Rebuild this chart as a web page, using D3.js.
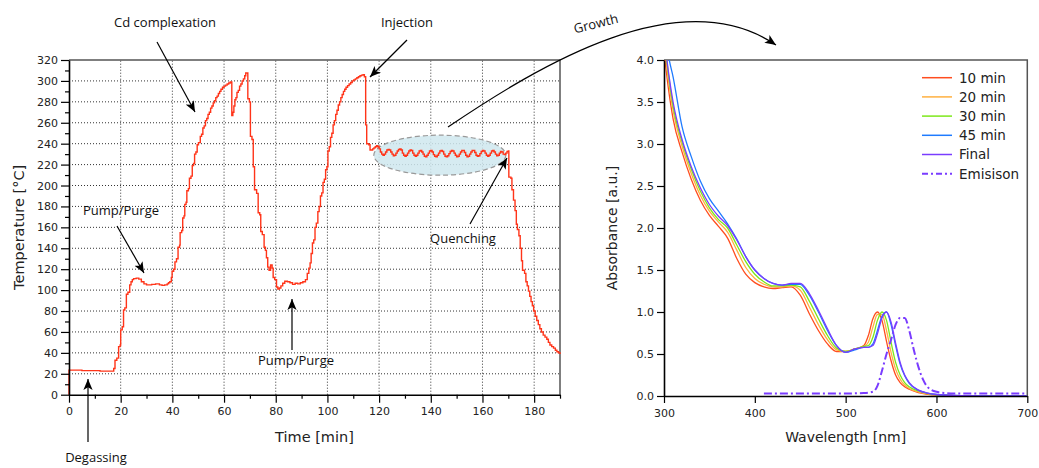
<!DOCTYPE html>
<html><head><meta charset="utf-8">
<script src="https://cdn.jsdelivr.net/npm/d3@7"></script>
<style>
html,body{margin:0;padding:0;background:#fff;}
svg{display:block;}
.tick text{font-family:"DejaVu Sans",sans-serif;font-size:11px;fill:#222;}
</style></head>
<body>
<svg id="c" width="1039" height="468"></svg>
<script>
// ---------- DATA ----------
// Temperature log (time in min, temperature in °C), step-wise recording
const timeMin = [0,0,5,12,17.3,17.8,18.5,19.2,19.8,20,20.6,21.1,21.6,22.2,22.8,23.5,24,24.5,25,26,27,28,29,30,32,33.5,35,36,37,38,38.5,39,39.6,39.9,40.5,41,41.6,42.2,42.8,43,43.6,44,44.5,44.8,45.3,45.6,46.2,46.6,47.2,47.7,48.2,48.6,49.1,49.6,50.1,50.8,51.3,51.8,52.3,52.8,53.3,53.8,54.3,54.8,55.3,55.8,56.3,56.8,57.3,57.8,58.3,58.8,59.4,60,60.6,61.2,61.8,62.4,63,63.4,63.8,64.2,64.6,65,65.5,66,66.5,67,67.5,68,68.4,69.2,69.8,70.2,70.8,71.3,71.8,72.6,73.2,73.8,74.2,74.8,75.5,76,76.4,76.9,77.4,78,78.6,79,79.6,80.3,80.8,81.4,82,82.7,83.5,84.5,85.5,86.5,87.5,88.5,89.5,90.5,91.5,92.2,92.8,93.3,93.7,94.2,94.7,95.2,95.7,96.3,96.8,97.3,97.8,98.3,98.8,99.3,99.8,100.2,100.7,101.2,101.7,102.2,102.7,103.2,103.7,104.2,104.7,105.2,105.7,106.2,106.7,107.2,107.8,108.4,109,109.6,110.2,110.8,111.4,112,112.6,113.2,113.8,114.3,114.8,115.2,116,
116.5,117,117.5,118,118.5,119,119.5,120,120.5,121,121.5,122,122.5,123,123.5,124,124.5,125,125.5,126,126.5,127,127.5,128,128.5,129,129.5,130,130.5,131,131.5,132,132.5,133,133.5,134,134.5,135,135.5,136,136.5,137,137.5,138,138.5,139,139.5,140,140.5,141,141.5,142,142.5,143,143.5,144,144.5,145,145.5,146,146.5,147,147.5,148,148.5,149,149.5,150,150.5,151,151.5,152,152.5,153,153.5,154,154.5,155,155.5,156,156.5,157,157.5,158,158.5,159,159.5,160,160.5,161,161.5,162,162.5,163,163.5,164,164.5,165,165.5,166,166.5,167,167.5,168,168.5,169,169.5,170,
170.2,171,171.4,172,172.6,173.1,173.5,174.1,174.6,175.1,175.5,176.3,176.8,177.3,177.8,178.3,178.8,179.3,179.8,180.4,181,181.6,182.2,182.8,183.5,184.2,184.9,185.5,186.1,186.8,187.5,188.2,188.8,189.4,190];
const tempC   = [0,23.5,23,22.5,25,33,35,46,47.5,62,65,81,83,96,98,105,108,110,111,111.5,110.5,108,106,105,105.5,106,105,104.5,105,106,107,108,112,118,120,127,130,141,143,155,157,169,171,182,184,195,197,207,209,219,221,230,232,239,241,247,249,255,257,262,264,268,270,274,276,279,281,284,285.5,288,290,292,294,295,296,297,298,299,267,270,276,282,284,289,291,295,297,300,302,305,307.5,283,280,247,244,218,196,192.5,174,172,156,153,141,138,131,122,119,124,121,112,110,103,101,102,104,106.5,108.5,108,107,105.5,106.5,106,107,108,110,116,121,126,135,145,148,160,164,175,180,190,193,203,206,215,218,233,237,246,250,258,262,268,272,277,280,284,287,290,292,294,295.5,297,298.5,300,301,302,303,304,305,305.5,306,304,258,240,239,
234,234,235,236,237,238,237,235,232,230,229,230,232,234,234.5,234,232,230,228.5,229,231,233,234.5,235,234,231,229,228,229,231,233,234,233.5,231,229,228,229,231,233,233.5,232,230,228,227.5,229,231,233,233.5,232,229.5,228,227.5,229,231,233,233.5,232.5,230,228,227.5,228.5,230.5,232.5,233.5,233,231,229,227.5,228,230,232,233.5,233.5,231.5,229,227.5,228,230,232,233.5,233.5,231.5,229,228,228.5,230.5,232.5,233.5,233,231,229,228,229,231,233,233.5,232,230,228.5,229,231,232.5,232,230,229.5,231,232.5,233,
208,207,196,186,176,163,158,152,140,128,119,116,108,104,99,94,89,85,80,75,71,67,63,60,57,55,53,50,47.5,46,44.5,42.5,41,40,39];

const timeTicks = [0,20,40,60,80,100,120,140,160,180];
const tempTicks = [0,20,40,60,80,100,120,140,160,180,200,220,240,260,280,300,320];

// Absorption spectra (wavelength nm, absorbance a.u.)
const wavelength = [300,305,310,320,330,340,350,360,370,380,390,400,410,420,430,440,450,460,470,480,490,500,510,520,525,530,535,540,545,550,555,560,565,570,580,590,600,620,650,700];
const abs10 = [4.10,3.65,3.30,2.90,2.58,2.33,2.15,2.02,1.88,1.64,1.45,1.35,1.30,1.28,1.29,1.30,1.20,0.98,0.78,0.62,0.53,0.53,0.56,0.60,0.72,0.92,1.00,0.90,0.65,0.42,0.25,0.16,0.11,0.08,0.04,0.02,0.01,0.005,0,0];
const abs20 = [4.20,3.75,3.40,2.97,2.65,2.39,2.20,2.07,1.95,1.74,1.53,1.40,1.33,1.30,1.30,1.31,1.26,1.06,0.85,0.67,0.55,0.53,0.56,0.59,0.64,0.82,0.97,0.97,0.78,0.52,0.32,0.20,0.13,0.09,0.05,0.025,0.012,0.005,0,0];
const abs30 = [4.30,3.82,3.45,3.02,2.70,2.44,2.24,2.10,2.00,1.80,1.60,1.45,1.36,1.31,1.31,1.32,1.30,1.13,0.92,0.72,0.57,0.53,0.56,0.59,0.60,0.70,0.90,1.00,0.90,0.64,0.40,0.25,0.16,0.11,0.06,0.03,0.015,0.005,0,0];
const abs45 = [4.50,4.05,3.80,3.20,2.85,2.56,2.35,2.20,2.05,1.87,1.66,1.50,1.40,1.34,1.32,1.33,1.33,1.20,1.00,0.78,0.60,0.52,0.55,0.58,0.58,0.62,0.78,0.95,1.00,0.85,0.60,0.38,0.24,0.15,0.07,0.035,0.018,0.006,0.001,0];
const absFinal = [4.30,3.85,3.50,3.05,2.73,2.48,2.28,2.14,2.03,1.86,1.66,1.50,1.40,1.34,1.32,1.34,1.34,1.22,1.02,0.80,0.60,0.52,0.56,0.58,0.58,0.60,0.74,0.93,1.00,0.88,0.63,0.40,0.25,0.16,0.07,0.035,0.018,0.006,0.001,0];
const emWavelength = [410,500,520,530,535,540,545,550,555,560,565,570,575,580,585,590,600,610,620,700];
const emission     = [0.03,0.03,0.035,0.05,0.12,0.30,0.50,0.67,0.85,0.93,0.93,0.78,0.55,0.35,0.20,0.11,0.05,0.035,0.03,0.03];

const seriesNames  = ["10 min","20 min","30 min","45 min","Final","Emisison"];
const seriesColors = ["#ff4d1f","#ffb040","#7de81a","#1f7bff","#7a3cff","#7a3cff"];
const wlTicks  = [300,400,500,600,700];
const absTicks = [0,0.5,1,1.5,2,2.5,3,3.5,4];

// ---------- DRAW ----------
const svg = d3.select("#c");
const FONT_T = '"DejaVu Sans",sans-serif';
const FONT_A = '"Open Sans",sans-serif';

const defs = svg.append("defs");
defs.append("marker").attr("id","ah").attr("viewBox","0 0 10 10")
  .attr("refX",10).attr("refY",5).attr("markerWidth",11).attr("markerHeight",11)
  .attr("markerUnits","userSpaceOnUse").attr("orient","auto")
  .append("path").attr("d","M0,0.8 L10,5 L0,9.2 L2.5,5 Z").attr("fill","#000");

// ---- Left chart ----
const xL = d3.scaleLinear([0,190],[69,560]);
const yL = d3.scaleLinear([0,320],[394.7,60]);
const gL = svg.append("g");

// grid
gL.append("g").selectAll("line").data(timeTicks.filter(d=>d>0)).join("line")
  .attr("x1",d=>xL(d)).attr("x2",d=>xL(d)).attr("y1",yL(0)).attr("y2",yL(320))
  .attr("stroke","#333").attr("stroke-width",1).attr("stroke-dasharray","1,2");
gL.append("g").selectAll("line").data(tempTicks.filter(d=>d>0&&d<320)).join("line")
  .attr("x1",xL(0)).attr("x2",xL(190)).attr("y1",d=>yL(d)).attr("y2",d=>yL(d))
  .attr("stroke","#333").attr("stroke-width",1).attr("stroke-dasharray","1,2");

// growth ellipse
gL.append("ellipse").attr("cx",xL(143.5)).attr("cy",yL(229)).attr("rx",66).attr("ry",20)
  .attr("fill","#cfe7ee").attr("fill-opacity",0.85).attr("stroke","#999").attr("stroke-width",1.2)
  .attr("stroke-dasharray","5,3");

// frame
gL.append("path").attr("d",`M${xL(0)},${yL(320)}H${xL(190)}V${yL(0)}`)
  .attr("fill","none").attr("stroke","#555").attr("stroke-width",1.5);

// temperature line
const tempData = timeMin.map((t,i)=>[t,tempC[i]]);
gL.append("path").datum(tempData)
  .attr("d", d3.line().x(d=>xL(d[0])).y(d=>yL(d[1])).curve(d3.curveStepAfter))
  .attr("fill","none").attr("stroke","#ff3419").attr("stroke-width",1.4);

// axes
gL.append("g").attr("transform",`translate(${xL(0)},0)`)
  .call(d3.axisLeft(yL).tickValues(tempTicks).tickSize(8).tickSizeOuter(0).tickPadding(3));
gL.append("g").attr("transform",`translate(${xL(0)},0)`)
  .call(d3.axisLeft(yL).tickValues(d3.range(10,320,20)).tickSize(4).tickFormat("").tickSizeOuter(0))
  .select(".domain").remove();
gL.append("g").attr("transform",`translate(0,${yL(0)})`)
  .call(d3.axisBottom(xL).tickValues(timeTicks).tickSize(8).tickSizeOuter(0).tickPadding(5));
gL.append("g").attr("transform",`translate(0,${yL(0)})`)
  .call(d3.axisBottom(xL).tickValues(d3.range(10,191,20)).tickSize(4).tickFormat("").tickSizeOuter(0))
  .select(".domain").remove();
gL.selectAll(".domain").attr("stroke","#000").attr("stroke-width",1.6);
gL.selectAll(".tick line").attr("stroke","#000").attr("stroke-width",1.2);

// axis titles
svg.append("text").attr("transform",`translate(24,${(yL(0)+yL(320))/2}) rotate(-90)`)
  .attr("text-anchor","middle").attr("font-family",FONT_T).attr("font-size",14.5).attr("fill","#222")
  .text("Temperature [°C]");
svg.append("text").attr("x",(xL(0)+xL(190))/2).attr("y",442)
  .attr("text-anchor","middle").attr("font-family",FONT_T).attr("font-size",14.5).attr("fill","#222")
  .text("Time [min]");

// annotations
function ann(text,tx,ty,x1,y1,x2,y2){
  svg.append("text").attr("x",tx).attr("y",ty).attr("text-anchor","middle")
    .attr("font-family",FONT_A).attr("font-size",13).attr("fill","#111").text(text);
  svg.append("line").attr("x1",x1).attr("y1",y1).attr("x2",x2).attr("y2",y2)
    .attr("stroke","#000").attr("stroke-width",1.2).attr("marker-end","url(#ah)");
}
ann("Cd complexation",165,27,157,42,195,112);
ann("Injection",407,27,407,40,370,77);
ann("Pump/Purge",121,215,117,226,144,273);
ann("Pump/Purge",296,365,292,350,292,299);
ann("Degassing",96,462,88,442,88,379);
ann("Quenching",463,243,470,224,507,158);

// Growth curved arrow
svg.append("path").attr("d","M448,127 C540,65 680,-20 776,45")
  .attr("fill","none").attr("stroke","#000").attr("stroke-width",1.2).attr("marker-end","url(#ah)");
svg.append("text").attr("transform","translate(597,28) rotate(-14)").attr("text-anchor","middle")
  .attr("font-family",FONT_A).attr("font-size",13).attr("fill","#111").text("Growth");

// ---- Right chart ----
const xR = d3.scaleLinear([300,700],[664,1027.3]);
const yR = d3.scaleLinear([0,4],[396,60]);
const gR = svg.append("g");
defs.append("clipPath").attr("id","clipR").append("rect")
  .attr("x",xR(300)).attr("y",yR(4)).attr("width",xR(700)-xR(300)).attr("height",yR(0)-yR(4));

gR.append("path").attr("d",`M${xR(300)},${yR(4)}H${xR(700)}V${yR(0)}`)
  .attr("fill","none").attr("stroke","#555").attr("stroke-width",1.5);

const lineR = d3.line().x(d=>xR(d[0])).y(d=>yR(d[1])).curve(d3.curveMonotoneX);
const absSeries = [abs10,abs20,abs30,abs45,absFinal];
const gLines = gR.append("g").attr("clip-path","url(#clipR)");
absSeries.forEach((arr,i)=>{
  gLines.append("path").datum(wavelength.map((w,j)=>[w,arr[j]]))
    .attr("d",lineR).attr("fill","none").attr("stroke",seriesColors[i]).attr("stroke-width",1.3);
});
gLines.append("path").datum(emWavelength.map((w,j)=>[w,emission[j]]))
  .attr("d",lineR).attr("fill","none").attr("stroke",seriesColors[5]).attr("stroke-width",2)
  .attr("stroke-dasharray","8,3,2,3");

gR.append("g").attr("transform",`translate(${xR(300)},0)`)
  .call(d3.axisLeft(yR).tickValues(absTicks).tickFormat(d3.format(".1f")).tickSize(7).tickSizeOuter(0).tickPadding(3));
gR.append("g").attr("transform",`translate(0,${yR(0)})`)
  .call(d3.axisBottom(xR).tickValues(wlTicks).tickSize(7).tickSizeOuter(0).tickPadding(6));
gR.selectAll(".domain").attr("stroke","#000").attr("stroke-width",1.6);
gR.selectAll(".tick line").attr("stroke","#000").attr("stroke-width",1.2);

svg.append("text").attr("transform",`translate(617,${(yR(0)+yR(4))/2}) rotate(-90)`)
  .attr("text-anchor","middle").attr("font-family",FONT_T).attr("font-size",14).attr("fill","#222")
  .text("Absorbance [a.u.]");
svg.append("text").attr("x",(xR(300)+xR(700))/2).attr("y",442)
  .attr("text-anchor","middle").attr("font-family",FONT_T).attr("font-size",14).attr("fill","#222")
  .text("Wavelength [nm]");

// legend
const leg = gR.append("g");
seriesNames.forEach((n,i)=>{
  const y = 77.7 + i*19.2;
  leg.append("line").attr("x1",922).attr("x2",952).attr("y1",y).attr("y2",y)
    .attr("stroke",seriesColors[i]).attr("stroke-width", i===5?2:1.5)
    .attr("stroke-dasharray", i===5?"6,3,2,3":null);
  leg.append("text").attr("x",959).attr("y",y+4.8).attr("font-family",FONT_T)
    .attr("font-size",13.5).attr("fill","#222").text(n);
});
</script>
</body></html>
